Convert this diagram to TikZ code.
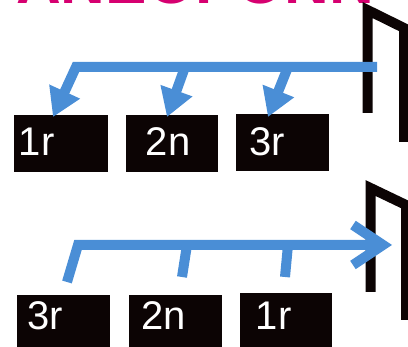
\documentclass[tikz,border=0pt]{standalone}
\usepackage{fontspec}
\setmainfont{Liberation Sans}
\usetikzlibrary{arrows.meta,calc}
\definecolor{arrowblue}{RGB}{74,142,214}
\definecolor{inkblack}{RGB}{12,4,4}
\definecolor{titlepink}{RGB}{214,0,112}
\begin{document}
\begin{tikzpicture}[x=1pt,y=-1pt,
  box/.style={fill=inkblack, draw=none, inner sep=0pt, anchor=north west},
  lbl/.style={text=white, font=\fontsize{40}{40}\selectfont, inner sep=0pt, anchor=base west},
  flow/.style={draw=arrowblue, line width=10pt, line join=miter, line cap=butt},
  door/.style={draw=inkblack, line width=10pt, line join=miter},
  headline/.style={text=titlepink, font=\fontsize{62}{62}\selectfont\bfseries, inner sep=0pt, anchor=base west}
]
\useasboundingbox (0,0) rectangle (408,347);

% cut-off title at the top
\node[headline] (title) at (16,4) {ANEOPONN};

% top row boxes
\node[box, minimum width=94pt, minimum height=57pt] (t1) at (14,115) {};
\node[box, minimum width=92pt, minimum height=57pt] (t2) at (126,115) {};
\node[box, minimum width=93pt, minimum height=57pt] (t3) at (236,114) {};
\node[lbl] (t1l) at (18.6,156) {1r};
\node[lbl] (t2l) at (145.8,156) {2n};
\node[lbl] (t3l) at (249.3,156) {3r};

% bottom row boxes
\node[box, minimum width=93pt, minimum height=56pt] (b1) at (17,295) {};
\node[box, minimum width=93pt, minimum height=56pt] (b2) at (129,295) {};
\node[box, minimum width=92pt, minimum height=58pt] (b3) at (240,293) {};
\node[lbl] (b1l) at (27.3,330) {3r};
\node[lbl] (b2l) at (140.8,330) {2n};
\node[lbl] (b3l) at (255.6,330) {1r};

% doors
\draw[door] (367.5,113) -- (367.5,10) -- (404,28) -- (404,142);
\draw[door] (370.5,292) -- (370.5,188) -- (406,205) -- (406,320);

% top arrows
\coordinate (tr) at (377,67);
\coordinate (tc) at (76,67);
\coordinate (tj2) at (185,67);
\coordinate (tj3) at (288,67);
\draw[flow, -{Triangle[width=32pt,length=28pt]}] (tr) -- (tc) -- ([xshift=39pt,yshift=-2pt]t1.north west);
\draw[flow, -{Triangle[width=32pt,length=28pt]}] (tj2) -- ([xshift=41pt,yshift=-2pt]t2.north west);
\draw[flow, -{Triangle[width=32pt,length=28pt]}] (tj3) -- ([xshift=32pt,yshift=-3pt]t3.north west);

% bottom arrows
\coordinate (bc) at (78,245);
\coordinate (bj2) at (187,245);
\coordinate (bj3) at (288,245);
\coordinate (btip) at (392,245);
\draw[flow, -{Straight Barb[length=30pt,width=40pt]}] ([xshift=50pt,yshift=13pt]b1.north west) -- (bc) -- (btip);
\draw[flow] ([xshift=53pt,yshift=18pt]b2.north west) -- (bj2);
\draw[flow] ([xshift=45pt,yshift=16pt]b3.north west) -- (bj3);
\end{tikzpicture}
\end{document}
